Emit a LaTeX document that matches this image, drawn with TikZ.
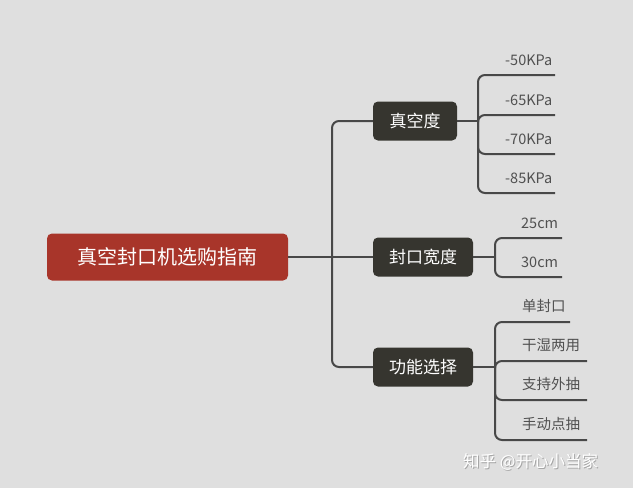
\documentclass[tikz,border=0pt]{standalone}
\usepackage{fontspec}
\setmainfont{Noto Sans CJK SC}
\definecolor{bgc}{HTML}{DFDFDF}
\definecolor{rootc}{HTML}{A8352A}
\definecolor{darkc}{HTML}{36352F}
\definecolor{linec}{HTML}{484848}
\definecolor{leaftxt}{HTML}{505050}
\tikzset{
  rootbox/.style={fill=rootc, rounded corners=5pt, text=white, font=\fontsize{20}{24}\selectfont, minimum width=241pt, minimum height=47pt, inner sep=0pt},
  subbox/.style={fill=darkc, rounded corners=5pt, text=white, font=\fontsize{17}{20}\selectfont, minimum height=39pt, inner sep=0pt},
  leaftext/.style={text=leaftxt, font=\fontsize{14.5}{17}\selectfont, inner sep=0pt},
  conn/.style={draw=linec, line width=2pt, rounded corners=7pt},
}
\begin{document}
\begin{tikzpicture}[x=1pt,y=-1pt]
\fill[bgc] (0,0) rectangle (633,488);
\useasboundingbox (0,0) rectangle (633,488);
% main nodes
\node[rootbox] (root) at (167.5,257) {真空封口机选购指南};
\node[subbox, minimum width=84pt] (v) at (415,121) {真空度};
\node[subbox, minimum width=100pt] (w) at (423,257) {封口宽度};
\node[subbox, minimum width=100pt] (f) at (423,367) {功能选择};
% trunk
\coordinate (tj) at (332,257);
\draw[conn] (root.east) -- (w.west);
\draw[conn] (v.west) -| (tj) |- (f.west);
% vacuum leaves
\coordinate (vj) at (478,121);
\coordinate (v1) at (555,75);
\coordinate (v2) at (555,115);
\coordinate (v3) at (555,154);
\coordinate (v4) at (555,193);
\draw[conn] (v.east) -- (vj);
\foreach \c in {v1,v2,v3,v4} \draw[conn] (vj) |- (\c);
\node[leaftext, anchor=west] (vt1) at (505,60) {-50KPa};
\node[leaftext, anchor=west] (vt2) at (505,100) {-65KPa};
\node[leaftext, anchor=west] (vt3) at (505,139) {-70KPa};
\node[leaftext, anchor=west] (vt4) at (505,178) {-85KPa};
% width leaves
\coordinate (wj) at (495,257);
\coordinate (w1) at (562,238);
\coordinate (w2) at (562,277);
\draw[conn] (w.east) -- (wj);
\foreach \c in {w1,w2} \draw[conn] (wj) |- (\c);
\node[leaftext, anchor=west] (wt1) at (521,223) {25cm};
\node[leaftext, anchor=west] (wt2) at (521,262) {30cm};
% function leaves
\coordinate (fj) at (495,367);
\coordinate (f1) at (570,322);
\coordinate (f2) at (587,361);
\coordinate (f3) at (587,400);
\coordinate (f4) at (587,440);
\draw[conn] (f.east) -- (fj);
\foreach \c in {f1,f2,f3,f4} \draw[conn] (fj) |- (\c);
\node[leaftext, anchor=west] (ft1) at (522,306) {单封口};
\node[leaftext, anchor=west] (ft2) at (522,345) {干湿两用};
\node[leaftext, anchor=west] (ft3) at (522,384) {支持外抽};
\node[leaftext, anchor=west] (ft4) at (522,424) {手动点抽};
% watermark
\node[anchor=west, inner sep=0pt, text=gray!70, font=\fontsize{16.5}{19}\selectfont] (wms) at (464,462.8) {知乎 @开心小当家};
\node[anchor=west, inner sep=0pt, text=white, font=\fontsize{16.5}{19}\selectfont] (wm) at (463,462) {知乎 @开心小当家};
\end{tikzpicture}
\end{document}
